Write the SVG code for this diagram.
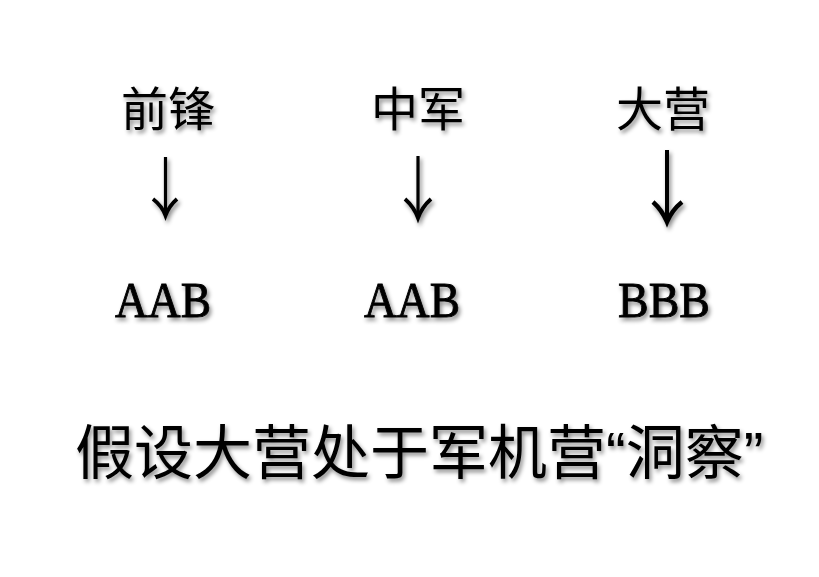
<svg xmlns="http://www.w3.org/2000/svg" width="819" height="577" viewBox="0 0 819 577">
  <defs>
    <filter id="sh" x="-20%" y="-20%" width="140%" height="160%">
      <feDropShadow dx="2" dy="3" stdDeviation="2.2" flood-color="#000" flood-opacity="0.45"/>
    </filter>
  </defs>
  <style>
    .cn { font-family: "Noto Sans CJK SC", "Noto Sans", sans-serif; font-size: 47px; fill: #000; text-anchor: middle; }
    .code { font-family: "Liberation Serif", "DejaVu Serif", serif; font-size: 51px; fill: #000; stroke: #000; stroke-width: 0.9; text-anchor: middle; }
    .big { font-family: "Noto Sans CJK SC", sans-serif; font-size: 59px; fill: #000; }
    .q { font-family: "Liberation Sans", sans-serif; }
    .arr { stroke: #000; fill: none; stroke-linecap: butt; stroke-linejoin: miter; }
  </style>
  <rect width="819" height="577" fill="#fff"/>
  <g filter="url(#sh)">
    <g id="node-qianfeng">
      <text class="cn" x="168" y="126">前锋</text>
      <text class="code" x="163" y="317" textLength="96" lengthAdjust="spacingAndGlyphs">AAB</text>
    </g>
    <g id="node-zhongjun">
      <text class="cn" x="418" y="126">中军</text>
      <text class="code" x="412" y="317" textLength="96" lengthAdjust="spacingAndGlyphs">AAB</text>
    </g>
    <g id="node-daying">
      <text class="cn" x="663" y="126">大营</text>
      <text class="code" x="664" y="317" textLength="92" lengthAdjust="spacingAndGlyphs">BBB</text>
    </g>
    <g id="connectors">
      <path class="arr" stroke-width="3.2" d="M165.5 157 V213"/>
      <path class="arr" stroke-width="3.8" d="M153 199 Q162 206 165.5 215.5 Q169 206 177 199"/>
      <path class="arr" stroke-width="3.2" d="M418 156 V216"/>
      <path class="arr" stroke-width="3.8" d="M405 199 Q414 207 418 218 Q422 207 431 199"/>
      <path class="arr" stroke-width="4" d="M667 150 V219"/>
      <path class="arr" stroke-width="4.4" d="M653 202 Q662 210 667 222 Q672 210 682 202"/>
    </g>
    <g id="caption">
      <text class="big" x="75" y="474">假设大营处于军机营<tspan class="q">“</tspan>洞察<tspan class="q">”</tspan></text>
    </g>
  </g>
</svg>
